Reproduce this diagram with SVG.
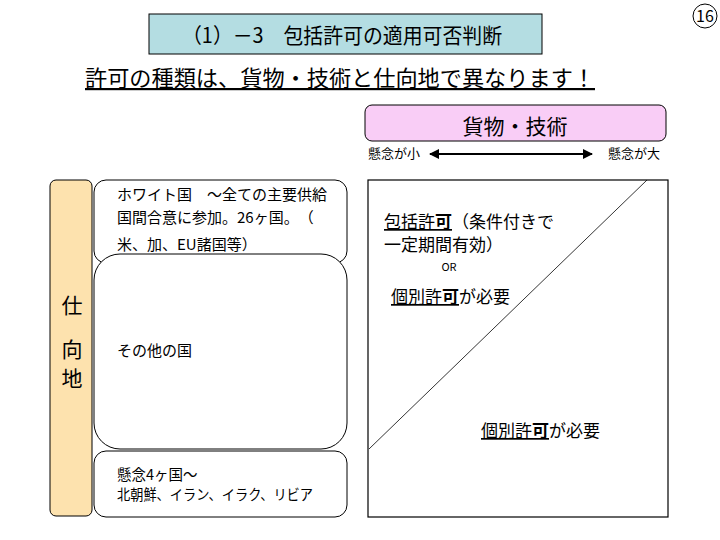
<svg xmlns="http://www.w3.org/2000/svg" width="720" height="540" viewBox="0 0 720 540">
<defs>
<style>
text{font-family:"Noto Sans CJK JP","Noto Sans",sans-serif;fill:#000}
.box{fill:#fff;stroke:#000;stroke-width:1}
.u{text-decoration:underline}
.b{font-weight:bold}
</style>
<marker id="ah" viewBox="0 0 10 10" refX="9" refY="5" markerWidth="5" markerHeight="5" orient="auto-start-reverse"><path d="M0,0 L10,5 L0,10 z" fill="#000"/></marker>
</defs>
<rect width="720" height="540" fill="#fff"/>
<g id="title">
<rect x="149" y="14" width="393" height="40" fill="#b4dde2" stroke="#000" stroke-width="1"/>
<text x="182" y="43" font-size="21" textLength="320" lengthAdjust="spacingAndGlyphs">（1）－3　包括許可の適用可否判断</text>
</g>
<g id="page-number">
<circle cx="705" cy="16" r="12" fill="#fff" stroke="#000" stroke-width="1"/>
<text x="705" y="22" font-size="16" text-anchor="middle">16</text>
</g>
<g id="subtitle"><text x="85" y="86" font-size="22" class="u" textLength="510" lengthAdjust="spacingAndGlyphs">許可の種類は、貨物・技術と仕向地で異なります！</text></g>
<g id="goods">
<rect x="365" y="105" width="301" height="36" rx="7" fill="#f9cdf6" stroke="#000" stroke-width="1"/>
<text x="515" y="134" font-size="21" text-anchor="middle">貨物・技術</text>
</g>
<g id="scale">
<text x="368" y="158" font-size="13">懸念が小</text>
<text x="608" y="158" font-size="13">懸念が大</text>
</g>
<g id="connectors">
<line x1="430" y1="154" x2="592" y2="154" stroke="#000" stroke-width="2" marker-start="url(#ah)" marker-end="url(#ah)"/>
</g>
<g id="destination">
<rect x="50" y="180" width="42" height="336" rx="6" fill="#fde2ae" stroke="#000" stroke-width="1"/>
<text x="72" y="313" font-size="21" text-anchor="middle">仕</text>
<text x="72" y="357" font-size="21" text-anchor="middle">向</text>
<text x="72" y="386" font-size="21" text-anchor="middle">地</text>
</g>
<g id="white-countries">
<rect class="box" x="94" y="180" width="253" height="83" rx="12"/>
<text x="117" y="200" font-size="15">ホワイト国　～全ての主要供給</text>
<text x="117" y="223" font-size="15">国間合意に参加。26ヶ国。　（</text>
<text x="117" y="250" font-size="15">米、加、EU諸国等）</text>
</g>
<g id="other-countries">
<rect class="box" x="94" y="254" width="253" height="195" rx="26"/>
<text x="117" y="356" font-size="15">その他の国</text>
</g>
<g id="concern-countries">
<rect class="box" x="94" y="451" width="253" height="66" rx="12"/>
<text x="117" y="480" font-size="14.5">懸念4ヶ国～</text>
<text x="117" y="500" font-size="14.5" textLength="196" lengthAdjust="spacingAndGlyphs">北朝鮮、イラン、イラク、リビア</text>
</g>
<g id="matrix">
<rect x="368" y="180" width="300" height="337" fill="none" stroke="#000" stroke-width="1.2"/>
<line x1="647" y1="180" x2="369" y2="449" stroke="#000" stroke-width="0.8"/>
<text x="384" y="228" font-size="17"><tspan class="u">包括許<tspan class="b">可</tspan></tspan>（条件付きで</text>
<text x="384" y="251" font-size="17">一定期間有効）</text>
<text x="449" y="271" font-size="11" text-anchor="middle">OR</text>
<text x="391" y="303" font-size="17"><tspan class="u">個別許<tspan class="b">可</tspan></tspan>が必要</text>
<text x="481" y="437" font-size="17"><tspan class="u">個別許<tspan class="b">可</tspan></tspan>が必要</text>
</g>
</svg>
